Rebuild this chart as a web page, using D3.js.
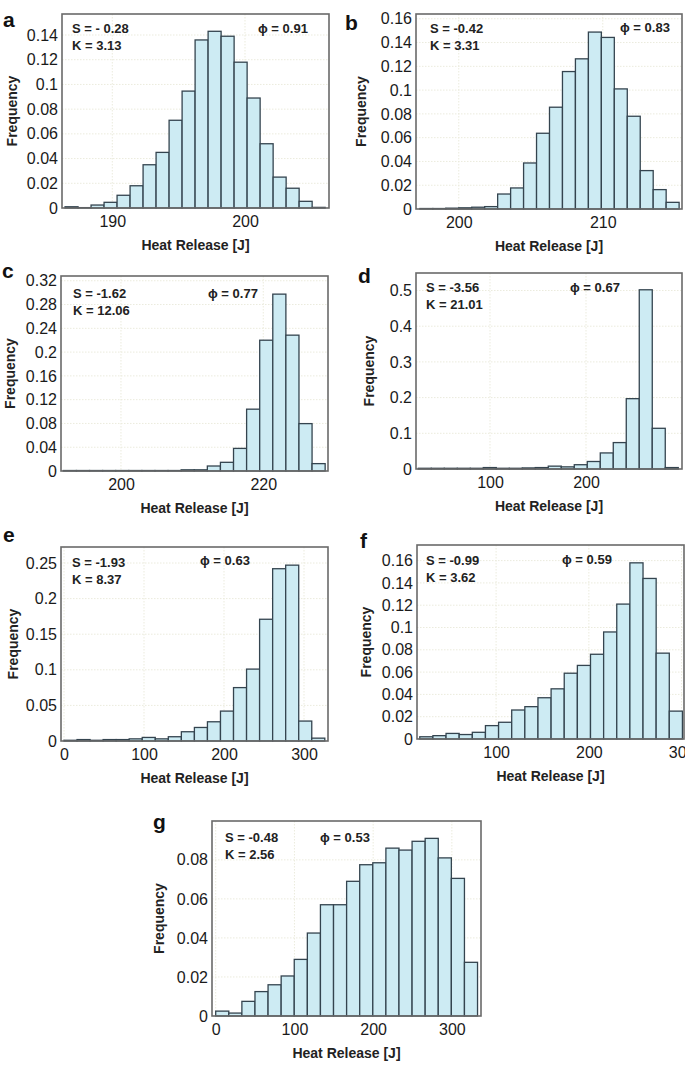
<!DOCTYPE html>
<html>
<head>
<meta charset="utf-8">
<script src="https://cdn.jsdelivr.net/npm/d3@7/dist/d3.min.js"></script>
<style>
  html, body { margin: 0; padding: 0; background: #fff; }
  svg { display: block; }
</style>
</head>
<body>
<script>
// ---------- DATA ----------
const panelLetters = ["a", "b", "c", "d", "e", "f", "g"];
const skewness = ["- 0.28", "-0.42", "-1.62", "-3.56", "-1.93", "-0.99", "-0.48"];
const kurtosis = ["3.13", "3.31", "12.06", "21.01", "8.37", "3.62", "2.56"];
const phiValues = ["0.91", "0.83", "0.77", "0.67", "0.63", "0.59", "0.53"];

// histogram bin starts and widths [J]
const binStart = [186.44, 197.3, 191.9, 25.3, 0, 17.7, 0];
const binWidth = [0.98, 0.9, 1.84, 13.54, 16.3, 14.16, 16.63];

// frequencies per bin
const freqA = [0.001, 0.0003, 0.0024, 0.0046, 0.0103, 0.018, 0.035, 0.045, 0.071, 0.0946, 0.136, 0.143, 0.139, 0.118, 0.089, 0.052, 0.025, 0.016, 0.0054, 0.0005];
const freqB = [0.0004, 0.0004, 0.0007, 0.001, 0.0015, 0.002, 0.0126, 0.0177, 0.0387, 0.0637, 0.0856, 0.1156, 0.1263, 0.1488, 0.1443, 0.101, 0.078, 0.0323, 0.0163, 0.0056];
const freqC = [0.0008, 0.0008, 0.0008, 0.0008, 0.0008, 0.0008, 0.0008, 0.0008, 0.0008, 0.002, 0.002, 0.0084, 0.0146, 0.038, 0.104, 0.22, 0.2975, 0.2285, 0.0797, 0.0124];
const freqD = [0.002, 0.002, 0.002, 0.002, 0.002, 0.004, 0.002, 0.002, 0.003, 0.004, 0.008, 0.006, 0.012, 0.021, 0.045, 0.074, 0.197, 0.502, 0.114, 0.004];
const freqE = [0.001, 0.002, 0.001, 0.002, 0.002, 0.003, 0.005, 0.003, 0.006, 0.013, 0.019, 0.027, 0.042, 0.075, 0.101, 0.171, 0.242, 0.247, 0.028, 0.004];
const freqF = [0.002, 0.003, 0.005, 0.004, 0.006, 0.012, 0.015, 0.026, 0.029, 0.037, 0.045, 0.059, 0.066, 0.076, 0.096, 0.121, 0.158, 0.144, 0.077, 0.025];
const freqG = [0.0025, 0.0015, 0.0075, 0.0125, 0.016, 0.0205, 0.029, 0.0425, 0.057, 0.057, 0.069, 0.0775, 0.0785, 0.086, 0.085, 0.0895, 0.091, 0.081, 0.0705, 0.0275];
const frequencies = [freqA, freqB, freqC, freqD, freqE, freqF, freqG];

// axis extents
const xMin = [186.21, 197.03, 191.57, 22.9, -3.75, 14.7, -4.7];
const xMax = [206.33, 215.5, 229.1, 300, 330, 302.6, 337];
const yMax = [0.157, 0.164, 0.328, 0.549, 0.2725, 0.174, 0.0999];

// tick labels
const xTicks = [[190, 200], [200, 210], [200, 220], [100, 200], [0, 100, 200, 300], [100, 200, 300], [0, 100, 200, 300]];
const yTicks = [
  [0, 0.02, 0.04, 0.06, 0.08, 0.1, 0.12, 0.14],
  [0, 0.02, 0.04, 0.06, 0.08, 0.1, 0.12, 0.14, 0.16],
  [0, 0.04, 0.08, 0.12, 0.16, 0.2, 0.24, 0.28, 0.32],
  [0, 0.1, 0.2, 0.3, 0.4, 0.5],
  [0, 0.05, 0.1, 0.15, 0.2, 0.25],
  [0, 0.02, 0.04, 0.06, 0.08, 0.1, 0.12, 0.14, 0.16],
  [0, 0.02, 0.04, 0.06, 0.08]
];
const xLabel = "Heat Release [J]";
const yLabel = "Frequency";

// ---------- LAYOUT ----------
const W = 685, H = 1066;
const frames = [
  {L: 62, T: 14, R: 329, B: 208},
  {L: 416, T: 14, R: 682, B: 209},
  {L: 61, T: 276, R: 328, B: 471},
  {L: 416, T: 273, R: 682, B: 469},
  {L: 61, T: 547, R: 328, B: 741},
  {L: 417, T: 545, R: 684, B: 739},
  {L: 212, T: 821, R: 481, B: 1016}
];
const letterPos = [[3, 27], [345, 30], [2, 278], [358, 283], [3, 542], [360, 548], [153, 829]];
const annPos = [ // S x, S baseline, phi x, phi baseline
  [72, 33, 258, 33], [430, 33, 620, 32], [73, 298, 208, 298], [426, 292, 570, 292],
  [72, 567, 200, 565], [426, 565, 562, 564], [225, 842, 320, 842]
];
const yLabelOffset = [50, 55, 51, 47, 48, 51, 53];

const font = "Arial, 'Liberation Sans', Helvetica, sans-serif";

const svg = d3.select("body").append("svg")
  .attr("width", W).attr("height", H)
  .style("font-family", font);

panelLetters.forEach((letter, i) => {
  const f = frames[i];
  const x = d3.scaleLinear().domain([xMin[i], xMax[i]]).range([f.L, f.R]);
  const y = d3.scaleLinear().domain([0, yMax[i]]).range([f.B, f.T]);
  const g = svg.append("g");

  // grid (faint dotted)
  g.append("g").selectAll("line.gy").data(yTicks[i].slice(1)).join("line")
    .attr("x1", f.L).attr("x2", f.R).attr("y1", d => y(d)).attr("y2", d => y(d))
    .attr("stroke", "#ebebdd").attr("stroke-width", 1).attr("stroke-dasharray", "1.5,1.5");
  g.append("g").selectAll("line.gx").data(xTicks[i]).join("line")
    .attr("x1", d => x(d)).attr("x2", d => x(d)).attr("y1", f.T).attr("y2", f.B)
    .attr("stroke", "#ebebdd").attr("stroke-width", 1).attr("stroke-dasharray", "1.5,1.5");

  // bars
  const bins = frequencies[i].map((v, k) => ({x0: binStart[i] + k * binWidth[i], x1: binStart[i] + (k + 1) * binWidth[i], v}));
  g.append("g").selectAll("rect").data(bins).join("rect")
    .attr("x", d => x(d.x0))
    .attr("y", d => y(d.v))
    .attr("width", d => x(d.x1) - x(d.x0))
    .attr("height", d => y(0) - y(d.v))
    .attr("fill", "#cdebf3")
    .attr("stroke", "#34444f")
    .attr("stroke-width", 1.3);

  // frame
  g.append("rect")
    .attr("x", f.L).attr("y", f.T).attr("width", f.R - f.L).attr("height", f.B - f.T)
    .attr("fill", "none").attr("stroke", "#6a6a6a").attr("stroke-width", 1.6);

  // y axis
  const ya = g.append("g").attr("transform", `translate(${f.L},0)`)
    .call(d3.axisLeft(y).tickValues(yTicks[i]).tickSize(0).tickPadding(4).tickFormat(d => d3.format("")(+d.toFixed(2))));
  ya.select(".domain").remove();
  ya.selectAll("text").attr("font-size", 16).attr("fill", "#1a1a1a").attr("font-family", font);

  // x axis
  const xa = g.append("g").attr("transform", `translate(0,${f.B})`)
    .call(d3.axisBottom(x).tickValues(xTicks[i]).tickSize(0).tickPadding(8).tickFormat(d3.format("d")));
  xa.select(".domain").remove();
  xa.selectAll("text").attr("font-size", 16).attr("fill", "#1a1a1a").attr("font-family", font);

  // axis titles
  g.append("text")
    .attr("x", (f.L + f.R) / 2).attr("y", f.B + 42)
    .attr("text-anchor", "middle").attr("font-size", 14).attr("font-weight", "bold").attr("fill", "#222")
    .text(xLabel);
  g.append("text")
    .attr("transform", `translate(${f.L - yLabelOffset[i]},${(f.T + f.B) / 2}) rotate(-90)`)
    .attr("text-anchor", "middle").attr("dy", "0.35em").attr("font-size", 14).attr("font-weight", "bold").attr("fill", "#222")
    .text(yLabel);

  // panel letter
  svg.append("text").attr("x", letterPos[i][0]).attr("y", letterPos[i][1])
    .attr("font-size", 21).attr("font-weight", "bold").attr("fill", "#111").text(letter);

  // annotations
  const a = annPos[i];
  g.append("text").attr("x", a[0]).attr("y", a[1]).attr("font-size", 13).attr("font-weight", "bold").attr("fill", "#222")
    .text(`S = ${skewness[i]}`);
  g.append("text").attr("x", a[0]).attr("y", a[1] + 17).attr("font-size", 13).attr("font-weight", "bold").attr("fill", "#222")
    .text(`K = ${kurtosis[i]}`);
  g.append("text").attr("x", a[2]).attr("y", a[3]).attr("font-size", 13).attr("font-weight", "bold").attr("fill", "#222")
    .text(`\u03D5 = ${phiValues[i]}`);
});
</script>
</body>
</html>
